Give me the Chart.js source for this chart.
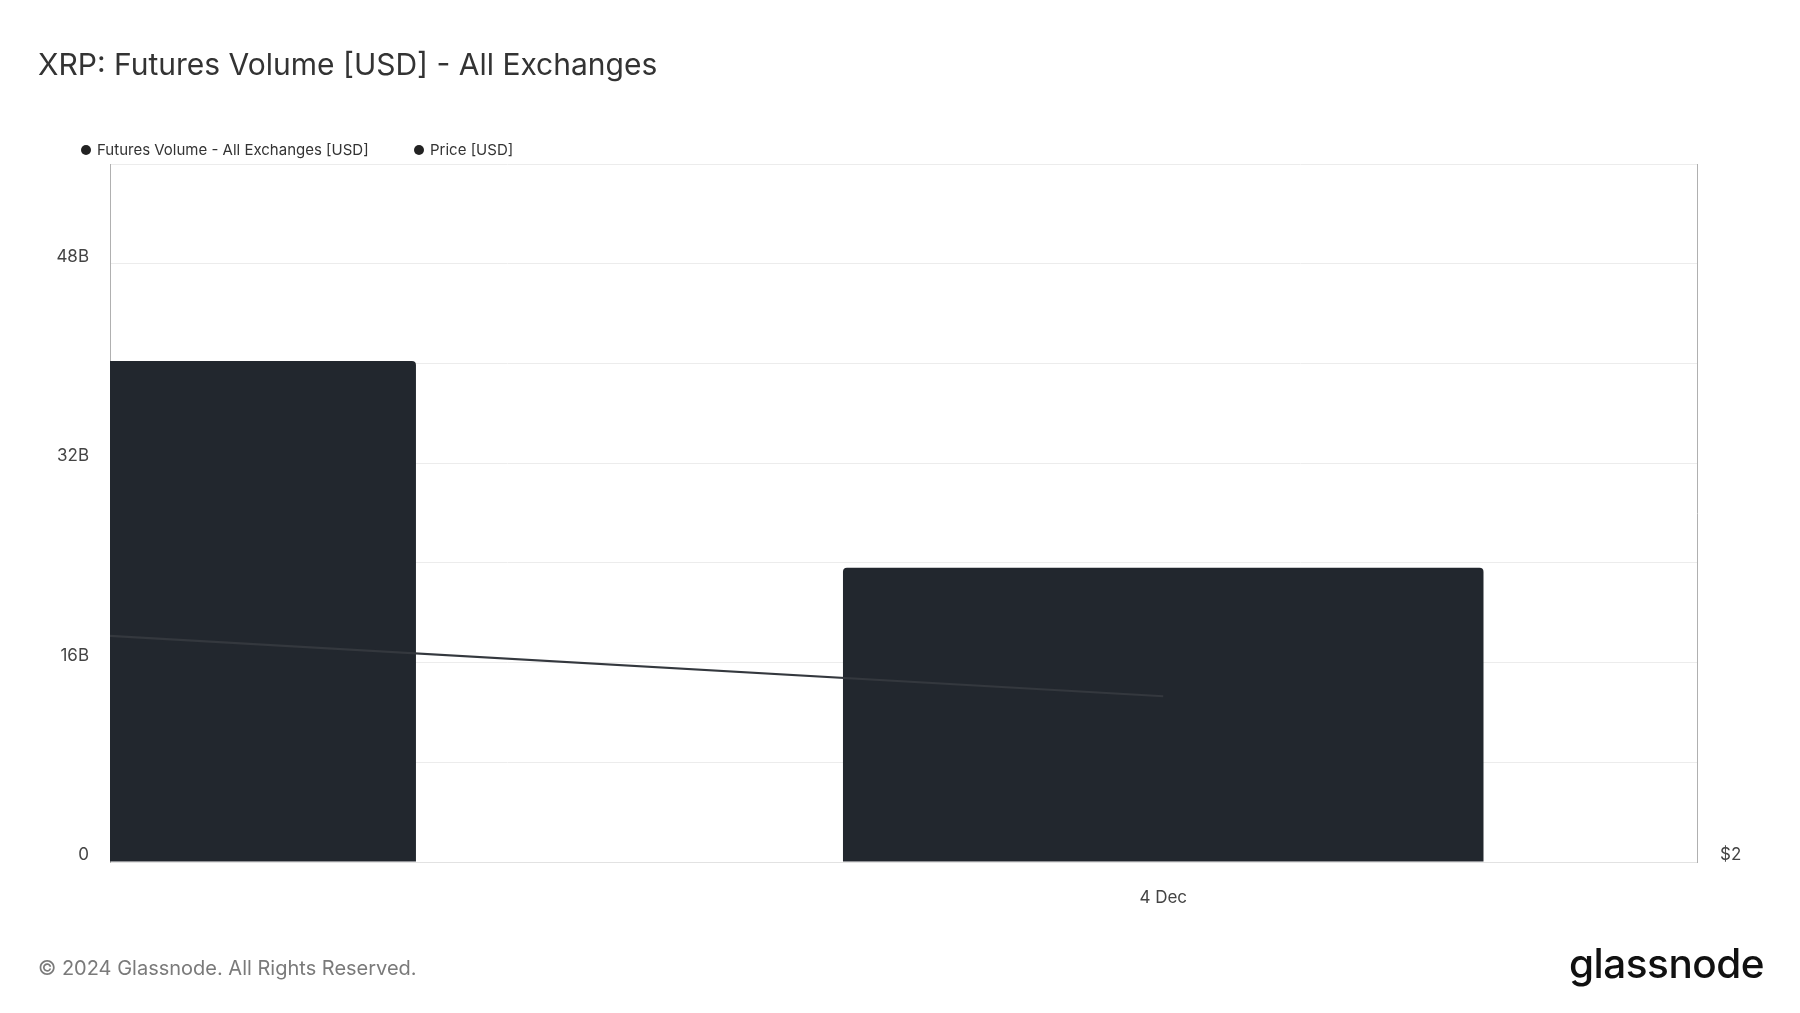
<!DOCTYPE html>
<html lang="en">
<head>
    <meta charset="UTF-8">
    <title>XRP Futures Volume</title>
    <script src="https://cdn.jsdelivr.net/npm/chart.js"></script>
    <style>
        body { margin: 0; background: #fff; font-family: Inter, 'Noto Sans', sans-serif; }
        #wrap { position: relative; width: 1800px; height: 1013px; overflow: hidden; }
        #myChart { position: absolute; left: 0; top: 0; }
        .title { position: absolute; left: 38px; top: 48px; font-size: 30px; line-height: 32px; color: #333; }
        .legend { position: absolute; top: 141px; font-size: 15px; line-height: 18px; color: #333; display: flex; align-items: center; }
        .legend i { display: inline-block; width: 10px; height: 10px; border-radius: 50%; background: #222; margin-right: 6px; }
        .footer { position: absolute; left: 38px; top: 956px; font-size: 20px; line-height: 24px; color: #7a7a7a; }
        .logo { position: absolute; left: 1569px; top: 940px; font-size: 40.5px; line-height: 48px; font-weight: 500; color: #111; letter-spacing: -0.5px; }
    </style>
</head>
<body>
<div id="wrap">
    <canvas id="myChart" width="1800" height="1013"></canvas>
    <div class="title">XRP: Futures Volume [USD] - All Exchanges</div>
    <div class="legend" style="left:81px"><i></i>Futures Volume - All Exchanges [USD]</div>
    <div class="legend" style="left:414px"><i></i>Price [USD]</div>
    <div class="footer">© 2024 Glassnode. All Rights Reserved.</div>
    <div class="logo">glassnode</div>
</div>

<script>
    // days of December 2024
    const days = [3, 4]
    const volume = [40.2e9, 23.6e9]
    const price = [2.52, 2.38]
    const xTickDays = [4]
    const xTickLabels = ['4 Dec']
    const yTickValues = [0, 16e9, 32e9, 48e9]
    const yTickLabels = ['0', '16B', '32B', '48B']
    const priceTicks = [2]
    const priceTickLabels = ['$2']

    const tickFont = { family: 'Inter', size: 17 }

    var ctx = document.getElementById('myChart')
    var myChart = new Chart(ctx, {
        data: {
            datasets: [{
                type: 'line',
                label: 'Price [USD]',
                data: days.map((d, i) => ({ x: d, y: price[i] })),
                yAxisID: 'price',
                borderColor: '#34383e',
                borderWidth: 2.2,
                pointRadius: 0,
                tension: 0,
                clip: 0,
                order: 0
            }, {
                type: 'bar',
                label: 'Futures Volume - All Exchanges [USD]',
                data: days.map((d, i) => ({ x: d, y: volume[i] })),
                yAxisID: 'y',
                backgroundColor: '#22272e',
                borderRadius: { topLeft: 4, topRight: 4 },
                borderSkipped: 'bottom',
                barPercentage: 0.6,
                categoryPercentage: 1,
                clip: 0,
                order: 1
            }]
        },
        options: {
            responsive: false,
            animation: false,
            layout: { padding: { left: 0, right: 0, top: 164, bottom: 91 } },
            plugins: { legend: { display: false }, tooltip: { enabled: false } },
            scales: {
                x: {
                    type: 'linear',
                    min: 3.0134,
                    max: 4.5,
                    offset: false,
                    grid: { display: false, drawTicks: false, offset: false },
                    border: { color: '#e2e2e2' },
                    afterBuildTicks: s => { s.ticks = xTickDays.map(v => ({ value: v })) },
                    afterFit: s => { s.height = 60 },
                    ticks: {
                        padding: 26,
                        color: '#444',
                        font: tickFont,
                        maxRotation: 0,
                        callback: v => xTickLabels[xTickDays.indexOf(v)] || ''
                    }
                },
                y: {
                    position: 'left',
                    min: 0,
                    max: 56e9,
                    grid: { color: '#ececec', drawTicks: false },
                    border: { color: '#b0b0b0' },
                    afterFit: s => { s.width = 110 },
                    ticks: {
                        stepSize: 8e9,
                        padding: 21,
                        labelOffset: -7,
                        color: '#444',
                        font: tickFont,
                        callback: v => {
                            const i = yTickValues.indexOf(v)
                            return i >= 0 ? yTickLabels[i] : ''
                        }
                    }
                },
                price: {
                    position: 'right',
                    min: 2,
                    max: 3.6,
                    grid: { display: false, drawTicks: false },
                    border: { color: '#b0b0b0' },
                    afterFit: s => { s.width = 103 },
                    afterBuildTicks: s => { s.ticks = priceTicks.map(v => ({ value: v })) },
                    ticks: {
                        padding: 23,
                        labelOffset: -7,
                        color: '#444',
                        font: tickFont,
                        callback: v => priceTickLabels[priceTicks.indexOf(v)] || ''
                    }
                }
            }
        }
    })
</script>
</body>
</html>
